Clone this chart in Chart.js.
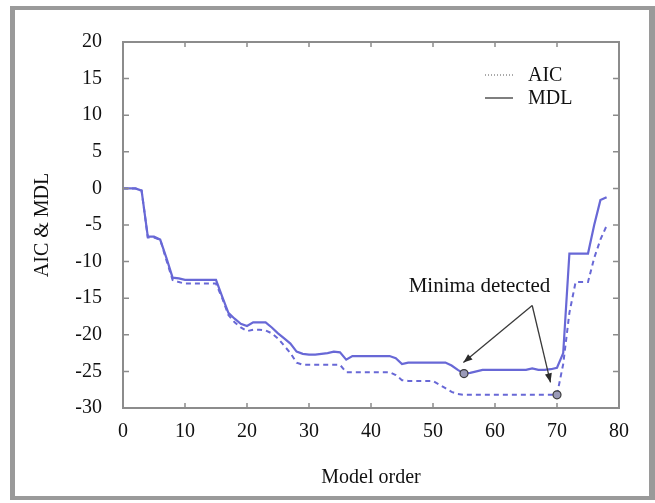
<!DOCTYPE html>
<html>
<head>
<meta charset="utf-8">
<script src="https://cdn.jsdelivr.net/npm/chart.js@4.4.1/dist/chart.umd.min.js"></script>
<style>
  html, body { margin: 0; padding: 0; background: #fff; }
  #wrap { width: 655px; height: 503px; position: relative; }
</style>
</head>
<body>
<div id="wrap"><canvas id="c" width="655" height="503"></canvas></div>
<script>
// ---- data ----
const orders = [0,1,2,3,4,5,6,7,8,9,10,11,12,13,14,15,16,17,18,19,20,21,22,23,24,25,26,27,28,29,30,31,32,33,34,35,36,37,38,39,40,41,42,43,44,45,46,47,48,49,50,51,52,53,54,55,56,57,58,59,60,61,62,63,64,65,66,67,68,69,70,71,72,73,74,75,76,77,78];
const mdlValues = [0,0,0,-0.3,-6.6,-6.6,-7.0,-9.5,-12.2,-12.3,-12.5,-12.5,-12.5,-12.5,-12.5,-12.5,-14.8,-17.0,-17.8,-18.5,-18.8,-18.3,-18.3,-18.3,-19.0,-19.8,-20.5,-21.2,-22.3,-22.6,-22.7,-22.7,-22.6,-22.5,-22.3,-22.4,-23.4,-22.9,-22.9,-22.9,-22.9,-22.9,-22.9,-22.9,-23.2,-24.0,-23.8,-23.8,-23.8,-23.8,-23.8,-23.8,-23.8,-24.2,-24.8,-25.3,-25.2,-25.0,-24.8,-24.8,-24.8,-24.8,-24.8,-24.8,-24.8,-24.8,-24.6,-24.8,-24.8,-24.7,-24.5,-22.5,-8.9,-8.9,-8.9,-8.9,-5.0,-1.6,-1.2];
const aicValues = [0,0,0,-0.3,-6.7,-6.7,-7.0,-9.8,-12.5,-12.8,-13.0,-13.0,-13.0,-13.0,-13.0,-13.0,-15.0,-17.3,-18.3,-19.0,-19.5,-19.3,-19.3,-19.4,-19.8,-20.5,-21.5,-22.5,-23.8,-24.1,-24.1,-24.1,-24.1,-24.1,-24.1,-24.1,-25.1,-25.1,-25.1,-25.1,-25.1,-25.1,-25.1,-25.1,-25.5,-26.2,-26.3,-26.3,-26.3,-26.3,-26.3,-26.8,-27.3,-27.8,-28.1,-28.2,-28.2,-28.2,-28.2,-28.2,-28.2,-28.2,-28.2,-28.2,-28.2,-28.2,-28.2,-28.2,-28.2,-28.2,-28.2,-24.0,-17.0,-12.8,-12.8,-12.8,-9.5,-7.0,-5.1];
const xTicks = [0,10,20,30,40,50,60,70,80];
const yTicks = [-30,-25,-20,-15,-10,-5,0,5,10,15,20];
const seriesNames = ['AIC','MDL'];
const mdlMinimumOrder = 55;
const aicMinimumOrder = 70;
const annotationText = 'Minima detected';
const annotationAt = {x: 57.5, y: -13.4};
const arrowApex = {x: 66.0, y: -16.0};
const arrowTips = [{x: 54.9, y: -23.8}, {x: 68.95, y: -26.5}];

const FONT = "'Liberation Serif', 'DejaVu Serif', serif";
const lineColor = 'rgb(104,104,214)';

const decor = {
  id: 'decor',
  afterDraw(chart) {
    const {ctx, chartArea: a, scales: {x, y}} = chart;
    ctx.save();
    // outer grey border
    ctx.fillStyle = '#9a9a9a';
    ctx.fillRect(10, 6, 5, 494);
    ctx.fillRect(10, 6, 645, 4);
    ctx.fillRect(649, 6, 6, 494);
    ctx.fillRect(10, 496, 645, 4);
    // plot frame
    ctx.strokeStyle = '#8c8c8c';
    ctx.lineWidth = 2;
    ctx.strokeRect(a.left, a.top, a.right - a.left, a.bottom - a.top);
    // inward ticks
    ctx.lineWidth = 1.5;
    ctx.strokeStyle = '#8c8c8c';
    ctx.beginPath();
    xTicks.forEach(v => {
      const px = x.getPixelForValue(v);
      ctx.moveTo(px, a.bottom); ctx.lineTo(px, a.bottom - 5);
      ctx.moveTo(px, a.top); ctx.lineTo(px, a.top + 5);
    });
    yTicks.forEach(v => {
      const py = y.getPixelForValue(v);
      ctx.moveTo(a.left, py); ctx.lineTo(a.left + 6, py);
      ctx.moveTo(a.right, py); ctx.lineTo(a.right - 6, py);
    });
    ctx.stroke();
    // legend
    ctx.strokeStyle = '#555';
    ctx.fillStyle = '#111';
    ctx.font = '20px ' + FONT;
    ctx.textBaseline = 'middle';
    ctx.textAlign = 'left';
    const lx0 = 485, lx1 = 513, tx = 528;
    ctx.lineWidth = 1;
    ctx.setLineDash([1, 2]);
    ctx.beginPath(); ctx.moveTo(lx0, 75); ctx.lineTo(lx1, 75); ctx.stroke();
    ctx.setLineDash([]);
    ctx.lineWidth = 1.5;
    ctx.beginPath(); ctx.moveTo(lx0, 98); ctx.lineTo(lx1, 98); ctx.stroke();
    ctx.fillText(seriesNames[0], tx, 76);
    ctx.fillText(seriesNames[1], tx, 99);
    // annotation text
    ctx.textAlign = 'center';
    ctx.font = '21px ' + FONT;
    ctx.fillText(annotationText, x.getPixelForValue(annotationAt.x), y.getPixelForValue(annotationAt.y));
    // arrows
    const ax = x.getPixelForValue(arrowApex.x), ay = y.getPixelForValue(arrowApex.y);
    ctx.strokeStyle = '#3a3a3a';
    ctx.fillStyle = '#2a2a2a';
    ctx.lineWidth = 1.3;
    arrowTips.forEach(t => {
      const tx2 = x.getPixelForValue(t.x), ty2 = y.getPixelForValue(t.y);
      ctx.beginPath(); ctx.moveTo(ax, ay); ctx.lineTo(tx2, ty2); ctx.stroke();
      const ang = Math.atan2(ty2 - ay, tx2 - ax);
      const L = 9, W = 3.5;
      ctx.beginPath();
      ctx.moveTo(tx2, ty2);
      ctx.lineTo(tx2 - L * Math.cos(ang) + W * Math.sin(ang), ty2 - L * Math.sin(ang) - W * Math.cos(ang));
      ctx.lineTo(tx2 - L * Math.cos(ang) - W * Math.sin(ang), ty2 - L * Math.sin(ang) + W * Math.cos(ang));
      ctx.closePath(); ctx.fill();
    });
    ctx.restore();
  }
};

new Chart(document.getElementById('c'), {
  type: 'line',
  data: {
    datasets: [
      {
        label: seriesNames[0],
        data: orders.map((o, i) => ({x: o, y: aicValues[i]})),
        borderColor: lineColor,
        borderWidth: 2,
        borderDash: [5, 4],
        tension: 0,
        pointRadius: ctx => (ctx.raw && ctx.raw.x === aicMinimumOrder) ? 4 : 0,
        pointBackgroundColor: '#9a9ab8',
        pointBorderColor: '#3a3a3a',
        pointBorderWidth: 1.2,
        fill: false
      },
      {
        label: seriesNames[1],
        data: orders.map((o, i) => ({x: o, y: mdlValues[i]})),
        borderColor: lineColor,
        borderWidth: 2.2,
        tension: 0,
        pointRadius: ctx => (ctx.raw && ctx.raw.x === mdlMinimumOrder) ? 4 : 0,
        pointBackgroundColor: '#9a9ab8',
        pointBorderColor: '#3a3a3a',
        pointBorderWidth: 1.2,
        fill: false
      }
    ]
  },
  options: {
    responsive: false,
    animation: false,
    devicePixelRatio: 1,
    layout: { padding: { left: 0, right: 36, top: 42, bottom: 0 } },
    plugins: { legend: { display: false }, tooltip: { enabled: false } },
    scales: {
      x: {
        type: 'linear', min: 0, max: 80,
        afterFit: s => { s.height = 95; },
        afterBuildTicks: s => { s.ticks = xTicks.map(v => ({value: v})); },
        grid: { display: false, drawTicks: false },
        border: { display: false },
        ticks: { font: { family: FONT, size: 20 }, color: '#111', padding: 12, maxRotation: 0 },
        title: { display: true, text: 'Model order', font: { family: FONT, size: 20 }, color: '#111', padding: { top: 0, bottom: 13 } }
      },
      y: {
        type: 'linear', min: -30, max: 20,
        afterFit: s => { s.width = 123; },
        afterBuildTicks: s => { s.ticks = yTicks.map(v => ({value: v})); },
        grid: { display: false, drawTicks: false },
        border: { display: false },
        ticks: { font: { family: FONT, size: 20 }, color: '#111', padding: 21 },
        title: { display: true, text: 'AIC & MDL', font: { family: FONT, size: 20 }, color: '#111', padding: { top: 31, bottom: 0 } }
      }
    }
  },
  plugins: [decor]
});
</script>
</body>
</html>
